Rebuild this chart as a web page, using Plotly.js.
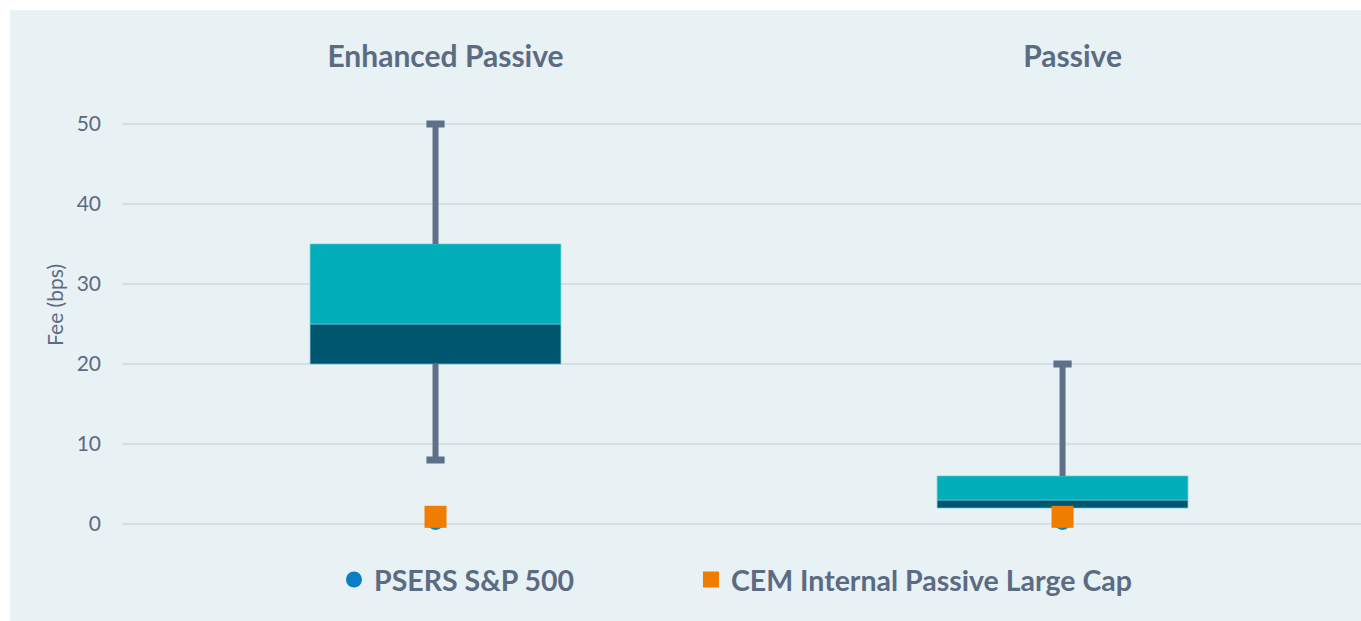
<!DOCTYPE html>
<html>
<head>
<meta charset="utf-8">
<script src="https://cdn.plot.ly/plotly-3.0.1.min.js"></script>
<style>
  html, body { margin: 0; padding: 0; background: #ffffff; width: 1361px; height: 621px; overflow: hidden; }
  #chart { position: absolute; left: 10px; top: 10px; width: 1351px; height: 611px; }
</style>
</head>
<body>
<div id="chart"></div>
<script>
// ---- Data ----
const categories = ["Enhanced Passive", "Passive"];
const whiskerLow  = [8, 2];     // lower whisker end
const q1          = [20, 2];    // box bottom
const median      = [25, 3];    // split between dark and teal
const q3          = [35, 6];    // box top
const whiskerHigh = [50, 20];   // upper whisker end
const psersSP500  = [0.3, 0.3]; // PSERS S&P 500
const cemPassive  = [0.9, 0.9]; // CEM Internal Passive Large Cap

const textColor = "#5B6B82";
const whiskerColor = "#5F7089";
const darkTeal = "#00566F";
const teal = "#00ADB9";

// whisker segments
const wx = [], wy = [], capX = [], capY = [];
categories.forEach((c, i) => {
  if (whiskerHigh[i] > q3[i]) {
    wx.push(c, c, null); wy.push(q3[i], whiskerHigh[i], null);
    capX.push(c); capY.push(whiskerHigh[i]);
  }
  if (whiskerLow[i] < q1[i]) {
    wx.push(c, c, null); wy.push(whiskerLow[i], q1[i], null);
    capX.push(c); capY.push(whiskerLow[i]);
  }
});

const traces = [
  {
    type: "scatter", mode: "lines", x: wx, y: wy, connectgaps: false,
    line: { color: whiskerColor, width: 6 }, showlegend: false, hoverinfo: "skip"
  },
  {
    type: "scatter", mode: "markers", x: capX, y: capY,
    marker: { symbol: "line-ew", size: 13, line: { color: whiskerColor, width: 7 } },
    showlegend: false, hoverinfo: "skip"
  },
  {
    type: "bar", x: categories, base: q1, y: median.map((m, i) => m - q1[i]),
    width: 0.4, marker: { color: darkTeal, line: { color: "rgba(110,200,210,0.7)", width: 1 } },
    showlegend: false
  },
  {
    type: "bar", x: categories, base: median, y: q3.map((q, i) => q - median[i]),
    width: 0.4, marker: { color: teal, line: { color: "rgba(110,200,210,0.7)", width: 1 } },
    showlegend: false
  },
  {
    type: "scatter", mode: "markers", name: "PSERS S&P 500", x: categories, y: psersSP500,
    marker: { symbol: "circle", size: 17, color: "#0B7FC3" }, cliponaxis: false, legend: "legend"
  },
  {
    type: "scatter", mode: "markers", name: "CEM Internal Passive Large Cap", x: categories, y: cemPassive,
    marker: { symbol: "square", size: 22, color: "#F07C00" }, cliponaxis: false, legend: "legend2"
  }
];

const legendFont = { size: 28.5, color: textColor, weight: "bold" };

const layout = {
  width: 1351, height: 611,
  paper_bgcolor: "#E8F1F4", plot_bgcolor: "rgba(0,0,0,0)",
  margin: { l: 112, r: 0, t: 84, b: 81 },
  barmode: "overlay",
  font: { family: "Lato, 'Open Sans', sans-serif", color: textColor },
  xaxis: {
    type: "category", side: "top", range: [-0.5, 1.476],
    showgrid: false, zeroline: false, showline: false, ticks: "",
    tickfont: { size: 30, color: textColor, weight: "bold" },
    ticklabelstandoff: 20, ticklabelshift: 10, fixedrange: true
  },
  yaxis: {
    range: [-2, 53.75], tickvals: [0, 10, 20, 30, 40, 50],
    showgrid: true, gridcolor: "#D6DFE3", gridwidth: 2,
    zeroline: false, showline: false, ticks: "",
    tickfont: { size: 21, color: textColor }, ticklabelstandoff: 20, fixedrange: true
  },
  annotations: [
    {
      text: "Fee (bps)", xref: "paper", yref: "y", x: -0.054, y: 27.4,
      xanchor: "center", yanchor: "middle", textangle: -90, showarrow: false,
      font: { size: 21, color: textColor }
    }
  ],
  showlegend: true,
  legend: {
    orientation: "h", x: 0.1711, xanchor: "left", y: -0.0897, yanchor: "middle",
    font: legendFont, bgcolor: "rgba(0,0,0,0)", itemwidth: 30
  },
  legend2: {
    orientation: "h", x: 0.4592, xanchor: "left", y: -0.0897, yanchor: "middle",
    font: legendFont, bgcolor: "rgba(0,0,0,0)", itemwidth: 30
  }
};

Plotly.newPlot("chart", traces, layout, { displayModeBar: false, staticPlot: true });
</script>
</body>
</html>
